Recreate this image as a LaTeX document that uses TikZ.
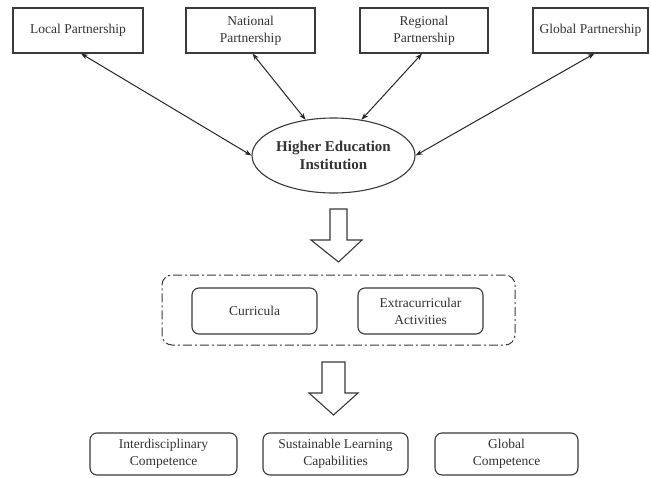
\documentclass[tikz,border=0pt]{standalone}
\usepackage{fontspec}
\setmainfont{Liberation Serif}
\usetikzlibrary{arrows.meta,shapes.geometric}
\definecolor{ln}{HTML}{3A3A3A}
\definecolor{tx}{HTML}{333333}
\begin{document}
\begin{tikzpicture}[x=1pt,y=-1pt,
  txt/.style={font=\fontsize{13.5}{17}\selectfont,text=tx,align=center,inner sep=0pt},
  topbox/.style={txt,draw=ln,line width=1.1pt,minimum height=45pt},
  rbox/.style={txt,draw=ln,line width=1.1pt,rounded corners=7pt,minimum height=46pt,minimum width=125pt},
  bbox/.style={txt,draw=ln,line width=1.1pt,rounded corners=7pt,minimum height=42pt},
  link/.style={draw=black!85,line width=1pt,{Stealth[length=7pt,width=5pt]}-{Stealth[length=7pt,width=5pt]}},
  blockarrow/.style={draw=ln,line width=1.1pt,fill=white}]
\useasboundingbox (0,0) rectangle (651,477);
\fill[white] (0,0) rectangle (651,477);

\node[topbox,minimum width=130pt] (local) at (78,30.5) {Local Partnership};
\node[topbox,minimum width=129pt] (national) at (250.5,30.5) {National\\Partnership};
\node[topbox,minimum width=128pt] (regional) at (424,30.5) {Regional\\Partnership};
\node[topbox,minimum width=115pt] (global) at (590.5,30.5) {Global Partnership};

\node[ellipse,draw=ln,line width=1.1pt,inner sep=0pt,minimum width=163pt,minimum height=75pt,
      font=\fontsize{15}{17.5}\selectfont\bfseries,text=tx,align=center] (hei) at (333.5,155.5) {Higher Education\\Institution};

\draw[link] ([xshift=3pt]local.south) -- (hei.west);
\draw[link] ([xshift=2pt]national.south) -- (hei.128);
\draw[link] ([xshift=-2pt]regional.south) -- (hei.52);
\draw[link] ([xshift=4pt]global.south) -- (hei.east);

% block arrow 1
\coordinate (a1) at (338.5,209);
\draw[blockarrow] (a1) ++(-8.5,0) -- ++(0,31) -- ++(-19,0) -- (338.5,262) -- (362,240) -- ++(-15,0) -- ++(0,-31) -- cycle;

\node[draw=ln,line width=1pt,dash pattern=on 9pt off 3pt on 2pt off 3pt,rounded corners=10pt,
      minimum width=353pt,minimum height=70pt] (group) at (338.5,310) {};
\node[rbox] (curr) at (254.5,311) {Curricula};
\node[rbox] (extra) at (420.5,311) {Extracurricular\\Activities};

% block arrow 2
\coordinate (a2) at (333.5,362);
\draw[blockarrow] (a2) ++(-11.5,0) -- ++(0,31) -- ++(-13,0) -- (333.5,415) -- (358,393) -- ++(-13,0) -- ++(0,-31) -- cycle;

\node[bbox,minimum width=147pt] (inter) at (163.5,454) {Interdisciplinary\\Competence};
\node[bbox,minimum width=145pt] (sust) at (335.5,454) {Sustainable Learning\\Capabilities};
\node[bbox,minimum width=143pt] (gcomp) at (506.5,454) {Global\\Competence};
\end{tikzpicture}
\end{document}
